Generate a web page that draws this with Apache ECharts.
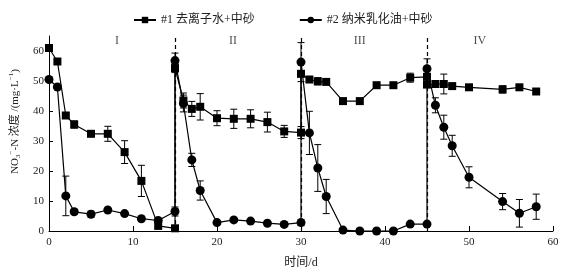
<!DOCTYPE html>
<html>
<head>
<meta charset="utf-8">
<script src="https://cdn.jsdelivr.net/npm/echarts@6/dist/echarts.min.js"></script>
<style>
  html, body { margin: 0; padding: 0; background: #fff; }
  #chart { width: 577px; height: 278px; }
</style>
</head>
<body>
<div id="chart"></div>
<script>
// sampling days (each phase boundary appears twice: end of one phase, start of the next)
const days = [0, 1, 2, 3, 5, 7, 9, 11, 13, 15,
              15, 16, 17, 18, 20, 22, 24, 26, 28, 30,
              30, 31, 32, 33, 35, 37, 39, 41, 43, 45,
              45, 46, 47, 48, 50, 54, 56, 58];

// #1 deionised water + medium sand
const water = [61, 56.5, 38.5, 35.5, 32.4, 32.4, 26.3, 16.7, 1.7, 0.9,
               54.3, 43.5, 40.7, 41.4, 37.6, 37.4, 37.4, 36.3, 33.2, 32.8,
               52.4, 50.5, 49.9, 49.7, 43.3, 43.3, 48.6, 48.6, 51.1, 51.4,
               48.8, 49, 49, 48.3, 47.9, 47.2, 47.9, 46.5];
const waterErr = [0.5, 0.5, 0.8, 1.2, 0.8, 2.5, 3.8, 5.2, 0.8, 0.5,
                  1.5, 2.5, 2.5, 4.4, 2.5, 3.2, 3, 3.3, 2, 2,
                  1, 1, 1.2, 0.5, 0.5, 0.5, 0.5, 0.5, 1.5, 1,
                  0.8, 0.8, 3.3, 0.8, 0.5, 1.2, 0.5, 0.8];

// #2 nano emulsified oil + medium sand
const oil = [50.5, 48, 11.7, 6.4, 5.6, 7.0, 5.8, 4.1, 3.5, 6.5,
             56.8, 42.5, 23.7, 13.5, 2.8, 3.7, 3.3, 2.6, 2.2, 2.8,
             56.3, 32.7, 21, 11.5, 0.3, 0, 0, 0, 2.3, 2.3,
             54.1, 41.9, 34.6, 28.4, 17.9, 9.8, 5.9, 8.1];
const oilErr = [0.5, 0.5, 6.6, 0.8, 1, 0.5, 0.5, 0.5, 0.5, 1.5,
                2.5, 2.8, 2.2, 3.2, 0.5, 0.5, 0.5, 0.5, 0.5, 1,
                6.5, 7.2, 7.8, 5.7, 0, 0, 0, 0, 0.5, 0.5,
                3.3, 2.5, 4, 3.5, 3.5, 2.7, 4.6, 4.2];

const phaseBounds = [15, 30, 45];
const phaseNames = ['I', 'II', 'III', 'IV'];
const phaseX = [8.1, 21.9, 37, 51.3];
const phaseY = 63.5;

const seriesNames = ['#1 去离子水+中砂', '#2 纳米乳化油+中砂'];

const serif = 'Liberation Serif, Noto Sans CJK SC, serif';

const pairs = (vals) => days.map((d, i) => [d, vals[i]]);
const bars = (vals, errs) => days
    .map((d, i) => [d, vals[i] - errs[i], vals[i] + errs[i]])
    .filter((r, i) => errs[i] > 0);

function renderErr(params, api) {
    const x = api.value(0);
    const top = api.coord([x, api.value(2)]);
    const bot = api.coord([x, api.value(1)]);
    const w = 3.5;
    const st = { stroke: '#000', lineWidth: 1 };
    return {
        type: 'group',
        children: [
            { type: 'line', shape: { x1: top[0], y1: top[1], x2: bot[0], y2: bot[1] }, style: st },
            { type: 'line', shape: { x1: top[0] - w, y1: top[1], x2: top[0] + w, y2: top[1] }, style: st },
            { type: 'line', shape: { x1: bot[0] - w, y1: bot[1], x2: bot[0] + w, y2: bot[1] }, style: st }
        ]
    };
}

const chart = echarts.init(document.getElementById('chart'));

const option = {
    animation: false,
    legend: {
        top: 9,
        left: 128,
        itemGap: 44,
        itemWidth: 22,
        itemHeight: 8,
        data: seriesNames,
        textStyle: { fontFamily: serif, fontSize: 12, color: '#222' }
    },
    grid: { left: 49, right: 24, top: 36, bottom: 47 },
    xAxis: {
        type: 'value',
        min: 0,
        max: 60,
        interval: 10,
        name: '时间/d',
        nameLocation: 'middle',
        nameGap: 26,
        nameTextStyle: { fontFamily: serif, fontSize: 12, color: '#222' },
        axisLine: { lineStyle: { color: '#000', width: 1 } },
        axisTick: { inside: true, length: 5, lineStyle: { color: '#000' } },
        axisLabel: { fontFamily: serif, fontSize: 11, color: '#222', margin: 6 },
        splitLine: { show: false }
    },
    yAxis: {
        type: 'value',
        min: 0,
        max: 65,
        interval: 10,
        name: '{t|NO}{s|3}{u|−}{t|-N 浓度 /(mg·L}{u|−1}{t|)}',
        nameLocation: 'middle',
        nameRotate: 90,
        nameGap: 24,
        nameTextStyle: {
            padding: [0, 0, 0, 24],
            rich: {
                t: { fontFamily: serif, fontSize: 11, color: '#222', lineHeight: 14 },
                s: { fontFamily: serif, fontSize: 7, color: '#222', verticalAlign: 'bottom', lineHeight: 14 },
                u: { fontFamily: serif, fontSize: 7, color: '#222', verticalAlign: 'top', lineHeight: 14 }
            }
        },
        axisLine: { show: true, lineStyle: { color: '#000', width: 1 } },
        axisTick: { inside: true, length: 4, lineStyle: { color: '#000' } },
        axisLabel: { fontFamily: serif, fontSize: 11, color: '#222', margin: 5, showMaxLabel: false },
        splitLine: { show: false }
    },
    series: [
        {
            name: seriesNames[1],
            type: 'line',
            data: pairs(oil),
            symbol: 'circle',
            symbolSize: 9,
            z: 3,
            itemStyle: { color: '#000' },
            lineStyle: { color: '#000', width: 1.2 },
            markLine: {
                silent: true,
                symbol: 'none',
                label: { show: false },
                lineStyle: { color: '#000', type: [4, 3], width: 1.2 },
                data: phaseBounds.map(x => ({ xAxis: x }))
            }
        },
        {
            name: seriesNames[0],
            type: 'line',
            data: pairs(water),
            symbol: 'rect',
            symbolSize: 8,
            z: 4,
            itemStyle: { color: '#000' },
            lineStyle: { color: '#000', width: 1.2 }
        },
        {
            type: 'custom',
            renderItem: renderErr,
            data: bars(water, waterErr),
            z: 2
        },
        {
            type: 'custom',
            renderItem: renderErr,
            data: bars(oil, oilErr),
            z: 2
        },
        {
            type: 'scatter',
            symbolSize: 0,
            data: phaseNames.map((n, i) => [phaseX[i], phaseY, n]),
            label: {
                show: true,
                position: 'inside',
                formatter: p => p.value[2],
                fontFamily: serif,
                fontSize: 12,
                color: '#222'
            }
        }
    ]
};

chart.setOption(option);
</script>
</body>
</html>
